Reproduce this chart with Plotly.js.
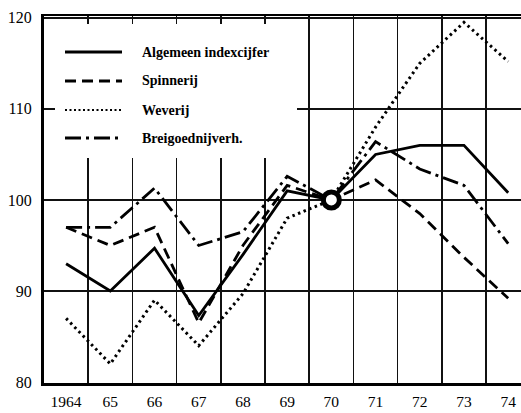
<!DOCTYPE html>
<html>
<head>
<meta charset="utf-8">
<script src="https://cdn.plot.ly/plotly-3.0.1.min.js"></script>
<style>
  html, body { margin: 0; padding: 0; background: #fff; overflow: hidden; }
  #chart { width: 521px; height: 413px; }
</style>
</head>
<body>
<div id="chart"></div>
<script>
// ---- data ----
var years = [1964, 1965, 1966, 1967, 1968, 1969, 1970, 1971, 1972, 1973, 1974];
var tickLabels = ["1964", "65", "66", "67", "68", "69", "70", "71", "72", "73", "74"];
var algemeen   = [93, 90, 94.7, 87.3, 94, 101, 100, 105, 106, 106, 100.8];
var spinnerij  = [97, 95, 97, 86.5, 95, 101.6, 100, 102.2, 98.5, 93.7, 89.2];
var weverij    = [87, 82, 89, 84, 89.7, 98, 100, 108, 115, 119.5, 115.2];
var breigoed   = [97, 97, 101.3, 95, 96.5, 102.6, 100, 106.4, 103.4, 101.6, 95.2];
var seriesNames = ["Algemeen indexcijfer", "Spinnerij", "Weverij", "Breigoednijverh."];
var yTicks = [80, 90, 100, 110, 120];
var baseIndex = 6; // 1970 = 100

// ---- styles ----
var dashes = ["solid", "11px,6px", "2.5px,3.5px", "16px,5px,3px,5px"];
var widths = [2.8, 2.8, 3, 2.8];
var legendWidths = [2.8, 2.8, 2, 2.8];
var legendDashes = ["solid", "11px,6px", "2px,2.5px", "16px,5px,3px,5px"];
var seriesData = [algemeen, spinnerij, weverij, breigoed];

var traces = seriesData.map(function (vals, i) {
  return {
    x: years, y: vals, type: "scatter", mode: "lines", name: seriesNames[i],
    line: { color: "#000", width: widths[i], dash: dashes[i] },
    showlegend: false, hoverinfo: "skip"
  };
});
traces.push({
  x: [years[baseIndex]], y: [algemeen[baseIndex]], type: "scatter", mode: "markers",
  marker: { symbol: "circle", size: 16, color: "#fff", line: { color: "#000", width: 5 } },
  showlegend: false, hoverinfo: "skip"
});

// pixel -> paper helpers for the hand-drawn legend
var ML = 44, MR = 0, MT = 16, MB = 30, W = 521, H = 413;
function px(x) { return (x - ML) / (W - ML - MR); }
function py(y) { return (H - MB - y) / (H - MT - MB); }

var minorGrid = years.slice(0, -1).map(function (y) { return y + 0.5; });

var shapes = [{
  type: "rect", layer: "above", xref: "paper", yref: "paper",
  x0: px(55), x1: px(297), y0: py(158), y1: py(24),
  fillcolor: "#fff", line: { width: 0 }
}];
var annotations = [];
var legendY = [52, 81, 110, 138];
seriesNames.forEach(function (n, i) {
  shapes.push({
    type: "line", layer: "above", xref: "paper", yref: "paper",
    x0: px(65), x1: px(122), y0: py(legendY[i]), y1: py(legendY[i]),
    line: { color: "#000", width: legendWidths[i], dash: legendDashes[i] }
  });
  annotations.push({
    xref: "paper", yref: "paper", x: px(140), y: py(legendY[i]),
    xanchor: "left", yanchor: "middle", showarrow: false, text: "<b>" + n + "</b>",
    font: { family: "Liberation Serif, Times New Roman, serif", size: 14, color: "#000" }
  });
});

var layout = {
  width: W, height: H,
  margin: { l: ML, r: MR, t: MT, b: MB, pad: 0 },
  paper_bgcolor: "#fff", plot_bgcolor: "#fff",
  font: { family: "Liberation Serif, Times New Roman, serif", size: 16, color: "#000" },
  xaxis: {
    range: [1963.5, 1974.29], tickmode: "array", tickvals: years, ticktext: tickLabels,
    showgrid: false, zeroline: false, ticks: "", ticklabelstandoff: 3,
    showline: true, linecolor: "#000", linewidth: 2.5, mirror: true,
    minor: { tickmode: "array", tickvals: minorGrid, showgrid: true, gridcolor: "#111", gridwidth: 1.6, ticks: "" },
    tickfont: { size: 15.5 }
  },
  yaxis: {
    range: [79.9, 120.2], tickmode: "array", tickvals: yTicks,
    showgrid: true, gridcolor: "#111", gridwidth: 1.6, zeroline: false, ticks: "",
    ticklabelstandoff: 6,
    showline: true, linecolor: "#000", linewidth: 3, mirror: false,
    tickfont: { size: 16 }
  },
  shapes: shapes,
  annotations: annotations,
  showlegend: false
};

Plotly.newPlot("chart", traces, layout, { staticPlot: true, displayModeBar: false });
</script>
</body>
</html>
